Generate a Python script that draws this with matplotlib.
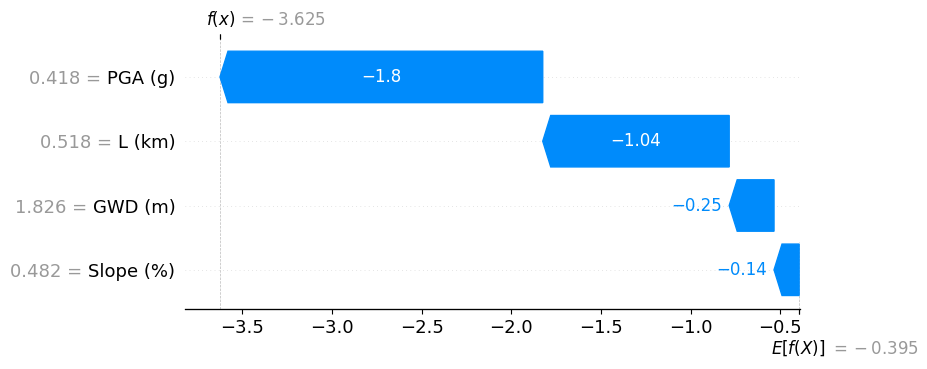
import numpy as np
import matplotlib
matplotlib.use("Agg")
import matplotlib.pyplot as plt
import matplotlib.transforms as mtransforms

# data (top row first)
features = ["PGA (g)", "L (km)", "GWD (m)", "Slope (%)"]
feature_values = ["0.418", "0.518", "1.826", "0.482"]
shap_values = [-1.80, -1.04, -0.25, -0.14]
base_value = -0.395
xtick_values = [-3.5, -3.0, -2.5, -2.0, -1.5, -1.0, -0.5]

blue = np.array([0.0, 0.5450980392156862, 0.984313725490196])


def format_value(v, fmt, strip=True):
    s = fmt % v
    if strip and "." in s:
        s = s.rstrip("0").rstrip(".")
    if s[0] == "-":
        s = "\u2212" + s[1:]
    return s


def math_value(v):
    # "= − 3.625" with the minus spaced as a binary operator
    s = "%0.03f" % v
    if s[0] == "-":
        return "$ = {}-" + s[1:] + "$"
    return "$ = " + s + "$"


num_features = len(features)
fx = base_value + sum(shap_values)

fig = plt.figure(figsize=(9.28, 3.69), dpi=100)
ax = fig.add_axes([0.1994, 0.1626, 0.6627, 0.7317])
ax.set_xlim(-3.82, -0.39)
ax.set_ylim(-0.61, num_features - 0.41)

# arrow head size in data units (0.08 inch)
head_length = 0.08
bar_width = 0.8
xmin, xmax = ax.get_xlim()
bbox = ax.get_window_extent().transformed(fig.dpi_scale_trans.inverted())
bbox_to_xscale = (xmax - xmin) / bbox.width
hl_scaled = bbox_to_xscale * head_length
renderer = fig.canvas.get_renderer()

loc = fx
for i in range(num_features):
    y = num_features - 1 - i
    dist = shap_values[i]
    loc -= dist
    left = loc
    arrow_obj = ax.arrow(left, y, -max(-dist - hl_scaled, 0.000001), 0,
                         head_length=min(-dist, hl_scaled), color=blue,
                         width=bar_width, head_width=bar_width)
    txt = format_value(dist, "%+0.02f")
    txt_obj = ax.text(left + 0.5 * dist, y, txt, ha="center", va="center",
                      color="white", fontsize=12)
    text_bbox = txt_obj.get_window_extent(renderer=renderer)
    arrow_bbox = arrow_obj.get_window_extent(renderer=renderer)
    # text does not fit -> put it left of the arrow
    if text_bbox.width > arrow_bbox.width:
        txt_obj.remove()
        ax.text(left - (5 / 72) * bbox_to_xscale + dist, y, txt,
                ha="right", va="center", color=blue, fontsize=12)

# feature names as black y tick labels
ypos = [num_features - 1 - i for i in range(num_features)]
ax.set_yticks(ypos)
ax.set_yticklabels(features, fontsize=13)

for i in range(num_features):
    ax.axhline(i, color="#cccccc", lw=0.5, dashes=(1, 5), zorder=-1)

ax.axvline(base_value, 0, 1 / num_features, color="#bbbbbb", linestyle="--", linewidth=0.5, zorder=-1)
ax.axvline(fx, 0, 1, color="#bbbbbb", linestyle="--", linewidth=0.5, zorder=-1)

ax.xaxis.set_ticks_position("bottom")
ax.yaxis.set_ticks_position("none")
for s in ["right", "top", "left"]:
    ax.spines[s].set_visible(False)
ax.tick_params(labelsize=13)
ax.set_xticks(xtick_values)
ax.set_xticklabels([format_value(t, "%0.1f", strip=False) for t in xtick_values])
ax.set_xlim(xmin, xmax)

# E[f(X)] tick at the bottom, label pushed one line down
ax2 = ax.twiny()
ax2.set_xlim(xmin, xmax)
ax2.xaxis.tick_bottom()
ax2.set_xticks([base_value, base_value + 1e-8])
ax2.set_xticklabels(["$E[f(X)]$", math_value(base_value)], fontsize=12, ha="left")
ax2.tick_params(axis="x", pad=17.9)
for s in ["right", "top", "left"]:
    ax2.spines[s].set_visible(False)
tl = ax2.xaxis.get_majorticklabels()
tl[0].set_transform(tl[0].get_transform() + mtransforms.ScaledTranslation(-20 / 72., 0, fig.dpi_scale_trans))
tl[1].set_transform(tl[1].get_transform() + mtransforms.ScaledTranslation(22 / 72., -1 / 72., fig.dpi_scale_trans))
tl[1].set_color("#999999")

# f(x) tick at the top
ax3 = ax2.twiny()
ax3.set_xlim(xmin, xmax)
ax3.xaxis.tick_top()
ax3.set_xticks([fx, fx + 1e-8])
ax3.set_xticklabels(["$f(x)$", math_value(fx)], fontsize=12, ha="left")
tl = ax3.xaxis.get_majorticklabels()
tl[0].set_transform(tl[0].get_transform() + mtransforms.ScaledTranslation(-10 / 72., 0, fig.dpi_scale_trans))
tl[1].set_transform(tl[1].get_transform() + mtransforms.ScaledTranslation(12 / 72., 0, fig.dpi_scale_trans))
tl[1].set_color("#999999")
for s in ["right", "top", "left"]:
    ax3.spines[s].set_visible(False)

# gray "value =" part placed just left of each black feature name
fig.canvas.draw()
space = 0.318 * 13 / 72
for lab, val, y in zip(ax.yaxis.get_majorticklabels(), feature_values, ypos):
    x0 = lab.get_window_extent(renderer=renderer).x0
    xfrac = ax.transAxes.inverted().transform((x0, 0))[0]
    trans = ax.get_yaxis_transform() + mtransforms.ScaledTranslation(-space, 0, fig.dpi_scale_trans)
    ax.text(xfrac, y, val + " =", transform=trans, ha="right", va="center_baseline",
            fontsize=13, color="#999999", clip_on=False)

fig.savefig("out.png", dpi=100)
